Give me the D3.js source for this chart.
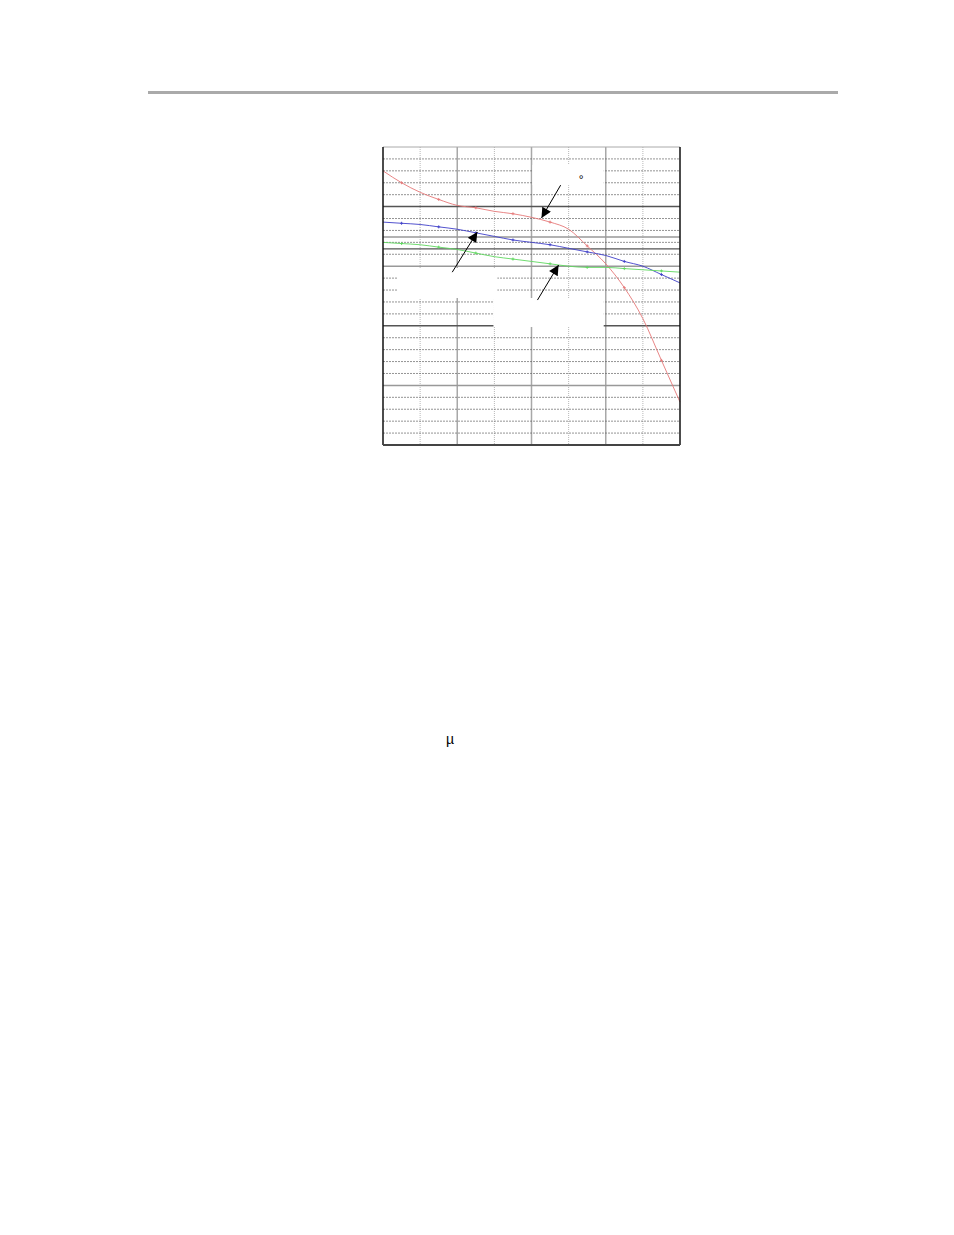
<!DOCTYPE html>
<html>
  <head>
  <title>Supply current vs temperature</title>
  <script src="https://d3js.org/d3.v7.min.js"></script>
  <style>
    body { margin: 0; background: white; }
    .mark { font-family: "Liberation Sans", Arial, sans-serif; fill: black; }
  </style>
  </head>
  <body>
    <script>
      let width = 954, height = 1235;

      // temperature axis (deg C) and the three curves
      let temps = [-40, -30, -20, -10, 0, 10, 20, 30, 40, 50, 60, 70, 80, 90, 100, 110, 120];
      let redValues = [2.30, 2.20, 2.12, 2.06, 2.01, 1.99, 1.96, 1.94, 1.91, 1.87, 1.81, 1.67, 1.52, 1.32, 1.06, 0.71, 0.36];
      let blueValues = [1.87, 1.86, 1.85, 1.83, 1.81, 1.78, 1.75, 1.72, 1.70, 1.68, 1.65, 1.62, 1.59, 1.54, 1.50, 1.43, 1.36];
      let greenValues = [1.70, 1.69, 1.68, 1.66, 1.64, 1.61, 1.58, 1.56, 1.54, 1.52, 1.50, 1.49, 1.49, 1.48, 1.47, 1.46, 1.45];
      let markerTemps = [-30, -10, 10, 30, 50, 70, 90, 110];

      // grid ticks
      let xMajor = [-40, 0, 40, 80, 120];
      let xMinor = [-20, 20, 60, 100];
      let yMajor = [0, 0.5, 1, 1.5, 2, 2.5];
      let yMinor = d3.range(0, 25).map(i => i / 10).filter(v => Math.round(v * 10) % 5 != 0);
      let refLines = [1.745, 1.645];

      // label boxes whose text is blank, arrows pointing to the curves
      let boxes = [[-32.4, 21.6, 1.485, 1.233], [19.5, 78.9, 1.233, 0.99], [40.5, 78.9, 2.35, 2.18]];
      let arrows = [[55.7, 2.18, 45.4, 1.905], [-2.7, 1.45, 10.8, 1.787], [43.2, 1.216, 54.6, 1.51]];

      let svg = d3.select('body').append('svg').attr('width', width).attr('height', height);

      // header rule
      svg.append('rect').attr('x', 148).attr('y', 91).attr('width', 690).attr('height', 3).attr('fill', '#aaaaaa');

      let x = d3.scaleLinear().domain([-40, 120]).range([383, 680]);
      let y = d3.scaleLinear().domain([0, 2.5]).range([445, 147]);

      let g = svg.append('g');

      // vertical grid
      g.selectAll('.vminor').data(xMinor).enter().append('line')
        .attr('x1', d => x(d)).attr('x2', d => x(d)).attr('y1', y(2.5)).attr('y2', y(0))
        .attr('stroke', '#b8b8b8').attr('stroke-dasharray', '1,1');
      g.selectAll('.vmajor').data(xMajor.slice(1, -1)).enter().append('line')
        .attr('x1', d => x(d)).attr('x2', d => x(d)).attr('y1', y(2.5)).attr('y2', y(0))
        .attr('stroke', '#a8a8a8').attr('stroke-width', 1.5);

      // horizontal grid
      g.selectAll('.hminor').data(yMinor).enter().append('line')
        .attr('x1', x(-40)).attr('x2', x(120)).attr('y1', d => y(d)).attr('y2', d => y(d))
        .attr('stroke', '#666').attr('stroke-dasharray', '2,1').attr('stroke-width', 0.7);
      g.selectAll('.hmajor').data(yMajor.slice(1, -1)).enter().append('line')
        .attr('x1', x(-40)).attr('x2', x(120)).attr('y1', d => y(d)).attr('y2', d => y(d))
        .attr('stroke', (d, i) => i % 2 ? '#555' : '#999').attr('stroke-width', 1.5);
      g.selectAll('.href').data(refLines).enter().append('line')
        .attr('x1', x(-40)).attr('x2', x(120)).attr('y1', d => y(d)).attr('y2', d => y(d))
        .attr('stroke', (d, i) => i ? '#555' : '#999').attr('stroke-width', 1.3);

      // curves
      let series = [
        {values: redValues, color: '#e57878'},
        {values: blueValues, color: '#4040c8'},
        {values: greenValues, color: '#60d860'}
      ];
      let line = d3.line().curve(d3.curveMonotoneX).x((d, i) => x(temps[i])).y(d => y(d));
      series.forEach(s => {
        g.append('path').attr('d', line(s.values)).attr('fill', 'none')
          .attr('stroke', s.color).attr('stroke-width', 0.9);
        g.selectAll(null).data(markerTemps).enter().append('path')
          .attr('d', t => {
            let px = x(t), py = y(s.values[temps.indexOf(t)]);
            return `M${px - 1.5},${py}H${px + 1.5}M${px},${py - 1.5}V${py + 1.5}`;
          })
          .attr('stroke', s.color).attr('stroke-width', 0.9);
      });

      // blank label boxes
      g.selectAll('.box').data(boxes).enter().append('rect')
        .attr('x', d => x(d[0])).attr('y', d => y(d[2]))
        .attr('width', d => x(d[1]) - x(d[0])).attr('height', d => y(d[3]) - y(d[2]))
        .attr('fill', 'white');

      // arrows
      svg.append('defs').append('marker').attr('id', 'head')
        .attr('viewBox', '0 0 10 10').attr('refX', 10).attr('refY', 5)
        .attr('markerWidth', 13).attr('markerHeight', 10).attr('markerUnits', 'userSpaceOnUse')
        .attr('orient', 'auto')
        .append('path').attr('d', 'M0,0L10,5L0,10Z').attr('fill', 'black');
      g.selectAll('.arrow').data(arrows).enter().append('line')
        .attr('x1', d => x(d[0])).attr('y1', d => y(d[1]))
        .attr('x2', d => x(d[2])).attr('y2', d => y(d[3]))
        .attr('stroke', 'black').attr('stroke-width', 1).attr('marker-end', 'url(#head)');

      g.append('text').classed('mark', true).attr('x', x(65.4)).attr('y', y(2.19))
        .attr('font-size', 12).text('°');

      // frame
      g.append('line').attr('x1', x(-40)).attr('x2', x(120)).attr('y1', y(2.5)).attr('y2', y(2.5))
        .attr('stroke', '#aaa').attr('stroke-width', 1);
      g.append('line').attr('x1', x(-40)).attr('x2', x(-40)).attr('y1', y(2.5)).attr('y2', y(0))
        .attr('stroke', '#111').attr('stroke-width', 1.5);
      g.append('line').attr('x1', x(120)).attr('x2', x(120)).attr('y1', y(2.5)).attr('y2', y(0))
        .attr('stroke', '#111').attr('stroke-width', 1.5);
      g.append('line').attr('x1', x(-40)).attr('x2', x(120)).attr('y1', y(0)).attr('y2', y(0))
        .attr('stroke', '#444').attr('stroke-width', 2);

      // body text fragment
      svg.append('text').classed('mark', true).attr('x', 446).attr('y', 744)
        .attr('font-size', 14).text('µ');
    </script>
  </body>
</html>
